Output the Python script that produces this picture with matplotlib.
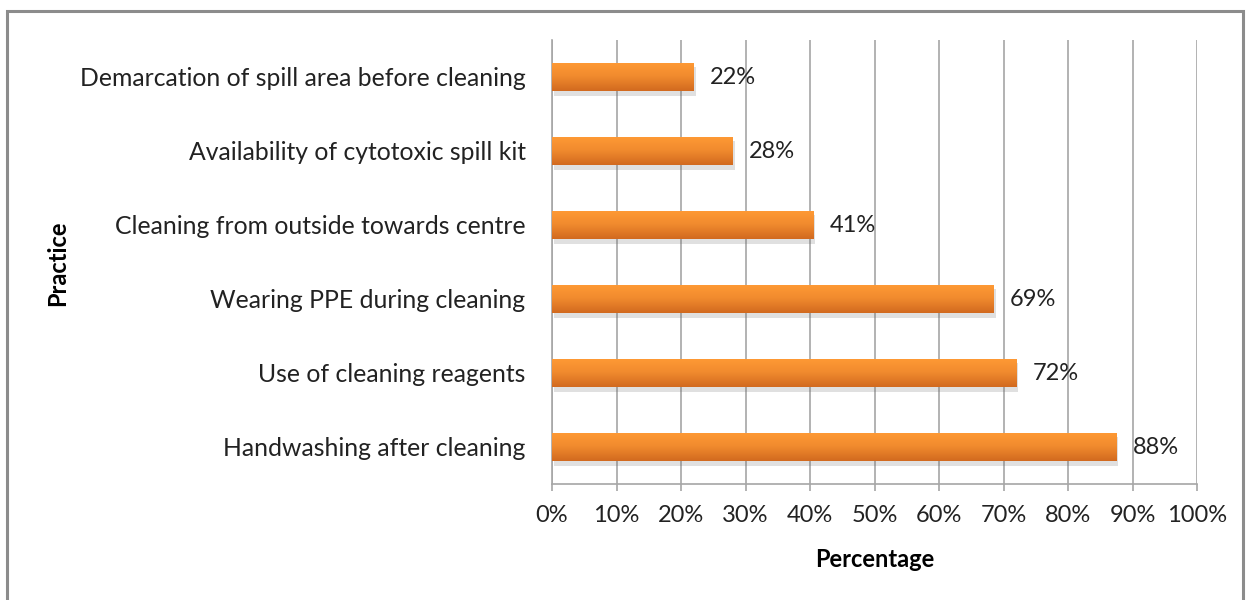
import numpy as np
import matplotlib
matplotlib.use("Agg")
import matplotlib.pyplot as plt
import matplotlib.patheffects as pe
from matplotlib.patches import Rectangle
from matplotlib.colors import LinearSegmentedColormap

practices = [
    "Handwashing after cleaning",
    "Use of cleaning reagents",
    "Wearing PPE during cleaning",
    "Cleaning from outside towards centre",
    "Availability of cytotoxic spill kit",
    "Demarcation of spill area before cleaning",
]
values = [87.5, 72, 68.5, 40.5, 28, 22]
value_labels = ["88%", "72%", "69%", "41%", "28%", "22%"]
xticks = list(range(0, 101, 10))

plt.rcParams['font.family'] = ['Lato', 'DejaVu Sans']
fs = 17

fig = plt.figure(figsize=(12.46, 6.0), dpi=100)
ax = fig.add_axes([552 / 1246, 1 - 484 / 600, 645 / 1246, 444 / 600])

grey = "#a6a6a6"
bars = ax.barh(range(len(practices)), values, height=0.39, color="#f08a2e",
               zorder=3)

# gradient fill + soft shadow like the office chart
grad = LinearSegmentedColormap.from_list("orng", ["#ff9a35", "#f08a2e", "#d26a1f"])
for b in bars:
    b.set_path_effects([pe.SimplePatchShadow(offset=(1.5, -3.5), shadow_rgbFace="#666666",
                                             alpha=0.2), pe.Normal()])
    x0, y0, w, h = b.get_x(), b.get_y(), b.get_width(), b.get_height()
    img = np.linspace(0, 1, 50).reshape(-1, 1)
    im = ax.imshow(img, cmap=grad, extent=[x0, x0 + w, y0 + h, y0], aspect="auto",
                   zorder=4, origin="lower")
    im.set_clip_path(b)

for b, lab in zip(bars, value_labels):
    ax.text(b.get_width() + 2.5, b.get_y() + b.get_height() / 2, lab,
            va="center", ha="left", fontsize=fs, color="#222222", zorder=5)

ax.set_xlim(0, 100)
ax.set_ylim(-0.5, len(practices) - 0.5)
ax.set_xticks(xticks)
ax.set_xticklabels([f"{t}%" for t in xticks], fontsize=fs, color="#222222")
ax.set_yticks(range(len(practices)))
ax.set_yticklabels(practices, fontsize=17.8, color="#222222")
ax.tick_params(axis="y", length=0, pad=19)
ax.tick_params(axis="x", length=5, width=1.2, color=grey, pad=10, direction="out")
ax.grid(axis="x", color=grey, linewidth=1.2, zorder=0)
ax.set_axisbelow(True)
for s in ["top", "right"]:
    ax.spines[s].set_visible(False)
for s in ["left", "bottom"]:
    ax.spines[s].set_color(grey)
    ax.spines[s].set_linewidth(1.2)

ax.set_xlabel("Percentage", fontsize=fs, fontweight="bold", labelpad=16)
fig.text(58 / 1246, 1 - 263 / 600, "Practice", rotation=90, fontsize=fs,
         fontweight="bold", ha="center", va="center")

fig.patches.append(Rectangle((7 / 1246, -0.05), 1236 / 1246, 1.05 - 11 / 600,
                             transform=fig.transFigure, fill=False,
                             edgecolor="#8c8c8c", linewidth=2.2))

fig.savefig("out.png", dpi=100)
